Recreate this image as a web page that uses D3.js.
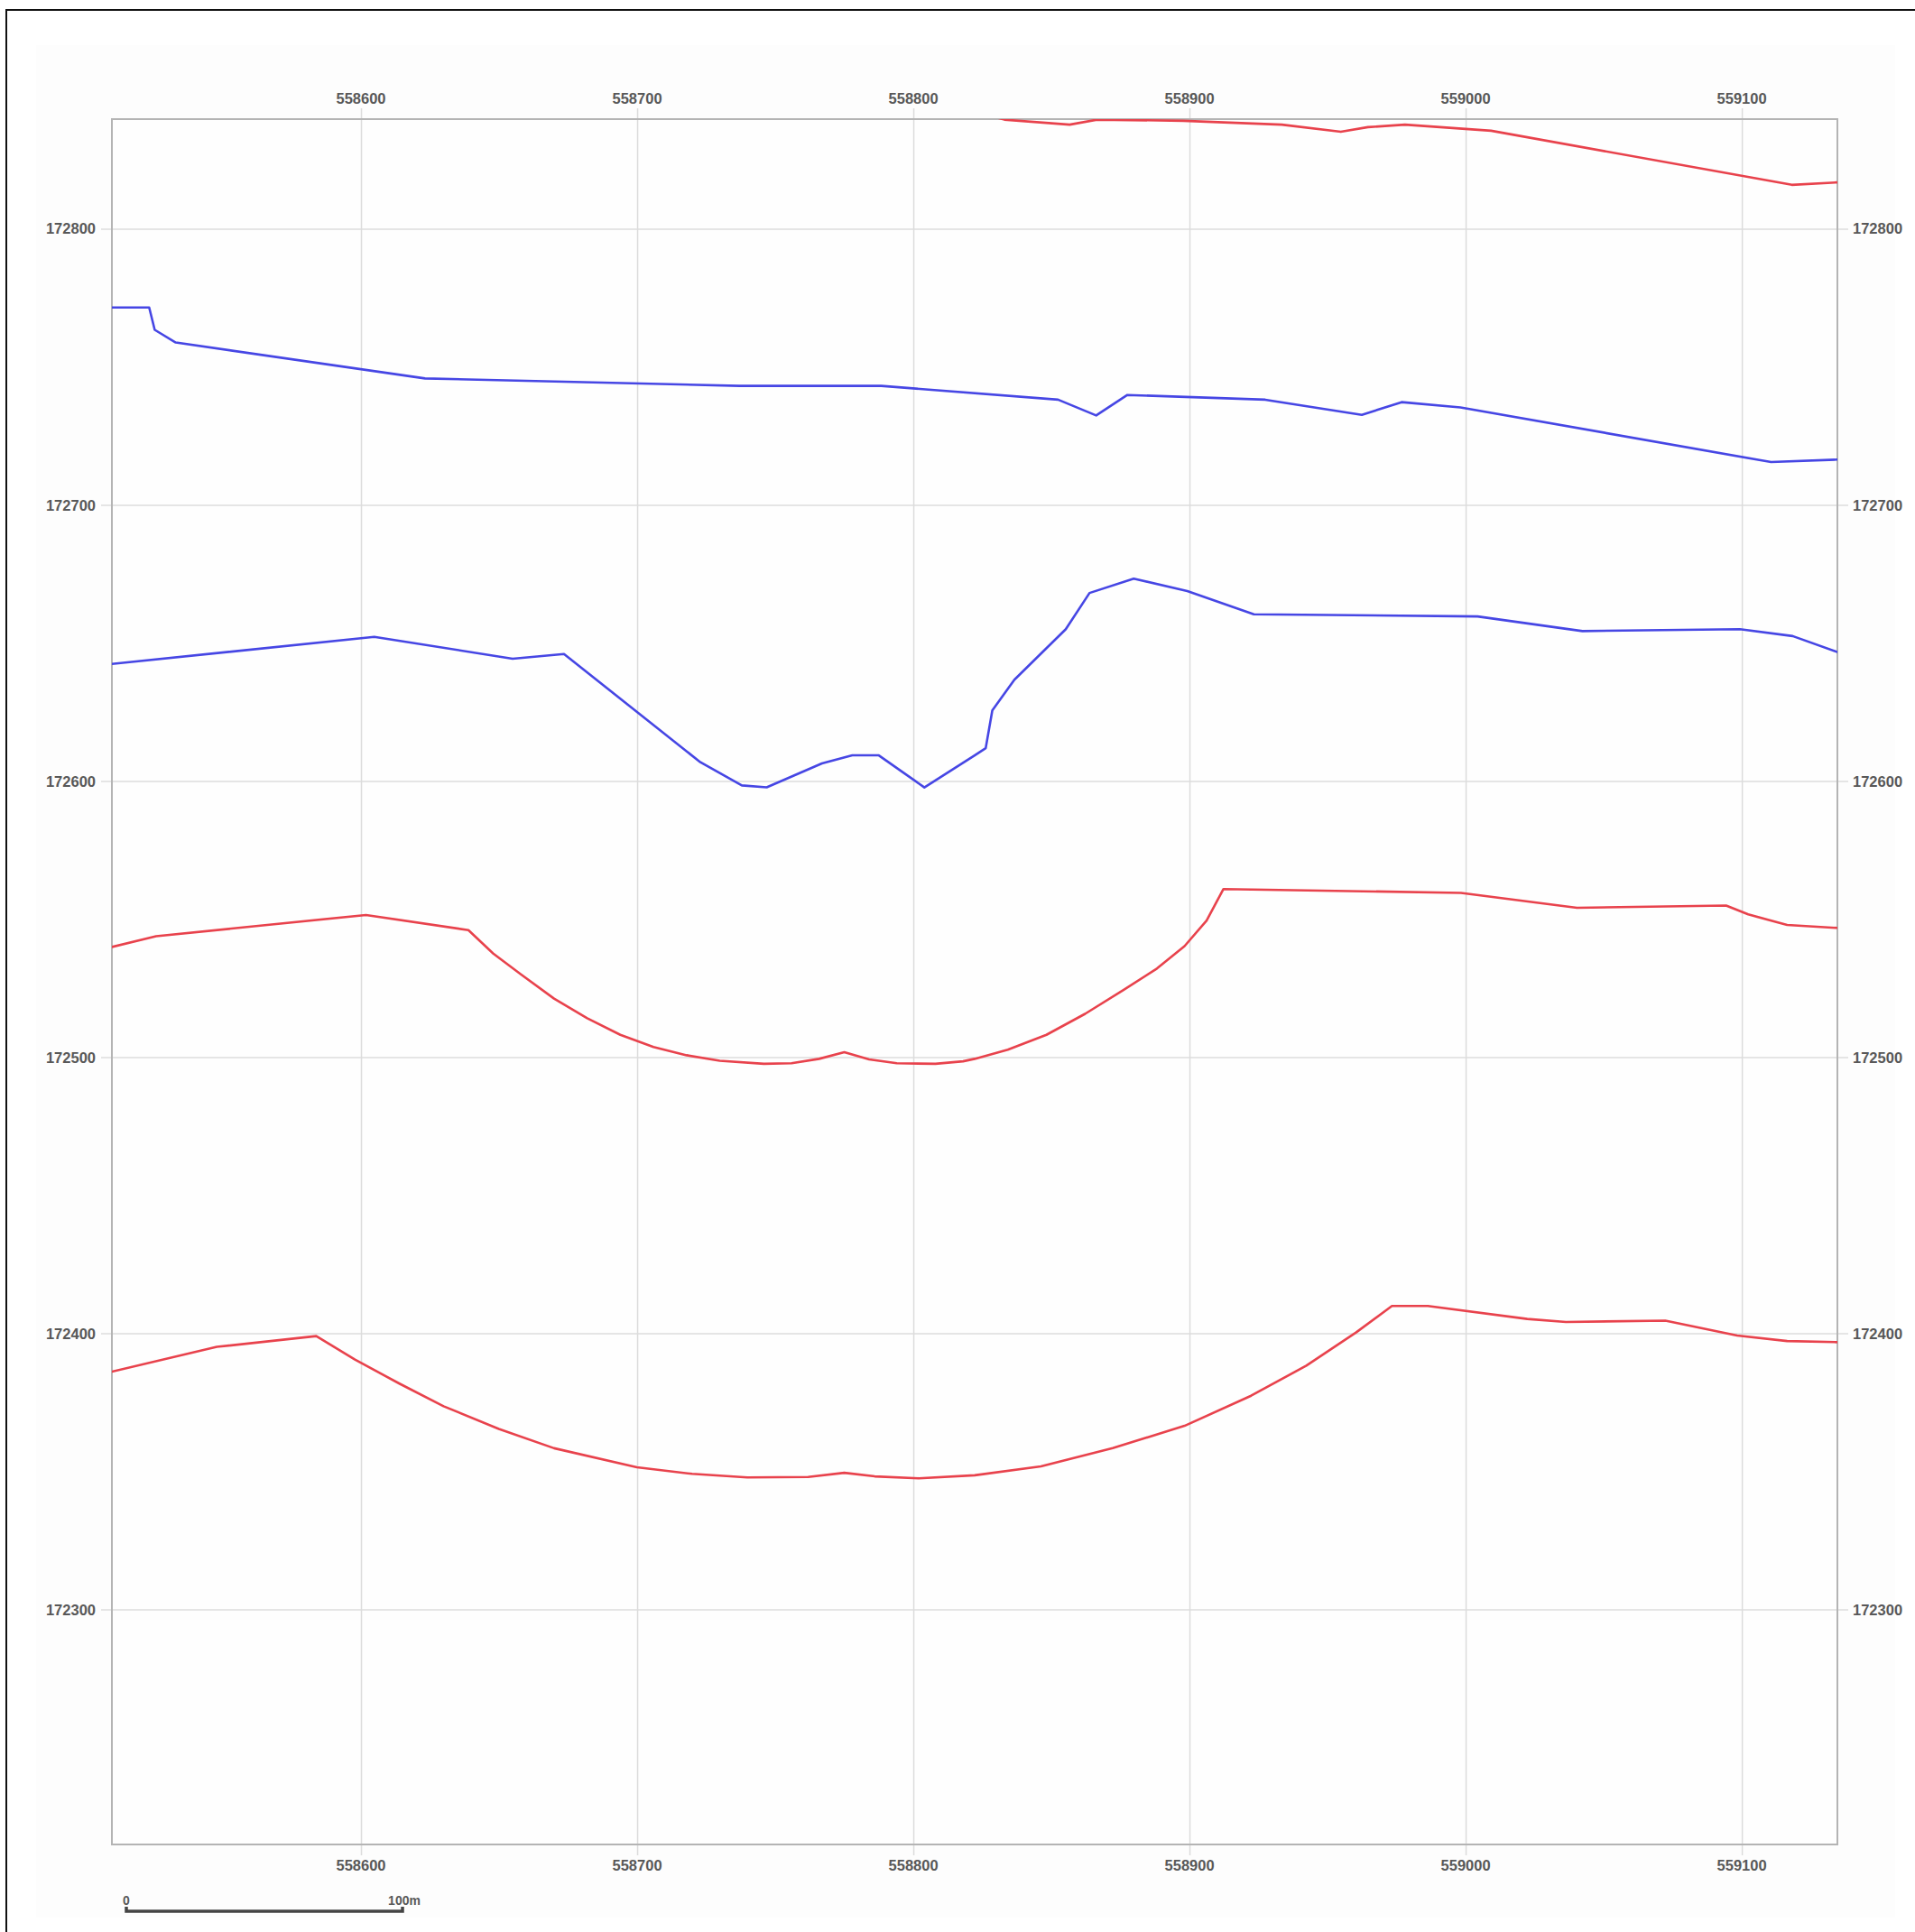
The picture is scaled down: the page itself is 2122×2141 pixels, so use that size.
<!DOCTYPE html>
<html>
<head>
<meta charset="utf-8">
<script src="https://cdn.jsdelivr.net/npm/d3@7/dist/d3.min.js"></script>
<style>
  html, body { margin: 0; padding: 0; background: #ffffff; }
  svg { display: block; }
  .tick-label { font-family: "Liberation Sans", Arial, sans-serif; font-weight: bold; font-size: 16.5px; fill: #585858; }
</style>
</head>
<body>
<script>
// ---- data (easting, northing) ----
const xTicks = [558600, 558700, 558800, 558900, 559000, 559100];
const yTicks = [172300, 172400, 172500, 172600, 172700, 172800];
const xDomain = [558509.8, 559134.6];
const yDomain = [172214.9, 172839.7];

const redTop = [
  [558822.0, 172842.5], [558833.0, 172839.5], [558856.6, 172837.7], [558866.5, 172839.5],
  [558897.7, 172839.1], [558933.4, 172837.7], [558954.8, 172835.1], [558964.6, 172836.8],
  [558978.0, 172837.7], [559009.2, 172835.5], [559118.1, 172815.9], [559134.6, 172816.8]
];

const blueUpper = [
  [558509.9, 172771.5], [558523.3, 172771.5], [558525.3, 172763.4], [558532.9, 172758.8],
  [558623.2, 172745.8], [558737.0, 172743.1], [558788.4, 172743.1], [558852.4, 172738.1],
  [558866.2, 172732.4], [558877.5, 172739.8], [558927.4, 172738.1], [558962.4, 172732.6],
  [558976.8, 172737.2], [558998.1, 172735.3], [559110.6, 172715.5], [559134.6, 172716.4]
];

const blueLower = [
  [558509.8, 172642.4], [558604.8, 172652.2], [558654.9, 172644.3], [558673.5, 172646.0],
  [558722.9, 172606.8], [558737.9, 172598.4], [558746.9, 172597.7], [558766.9, 172606.4],
  [558777.9, 172609.3], [558787.5, 172609.3], [558804.0, 172597.7], [558822.2, 172609.3],
  [558826.2, 172611.9], [558828.6, 172625.6], [558836.6, 172636.7], [558855.2, 172655.0],
  [558863.8, 172668.1], [558879.8, 172673.3], [558899.2, 172668.8], [558923.3, 172660.4],
  [559004.3, 172659.6], [559042.3, 172654.3], [559099.3, 172655.0], [559118.4, 172652.5],
  [559134.6, 172646.7]
];

const redMiddle = [
  [558509.8, 172539.9], [558525.8, 172543.8], [558601.8, 172551.5], [558638.9, 172546.0],
  [558647.9, 172537.5], [558657.9, 172530.0], [558669.9, 172521.2], [558681.9, 172514.1],
  [558693.9, 172508.1], [558705.9, 172503.7], [558717.9, 172500.7], [558729.9, 172498.7],
  [558745.9, 172497.6], [558755.9, 172497.8], [558765.9, 172499.4], [558775.0, 172501.8],
  [558784.0, 172499.2], [558794.0, 172497.8], [558808.0, 172497.6], [558818.0, 172498.5],
  [558822.2, 172499.4], [558834.2, 172502.7], [558848.2, 172508.1], [558862.2, 172515.7],
  [558876.2, 172524.4], [558888.2, 172532.1], [558898.2, 172540.2], [558906.2, 172549.5],
  [558912.3, 172560.9], [558998.3, 172559.5], [559040.3, 172554.1], [559094.3, 172554.9],
  [559102.3, 172551.7], [559116.4, 172547.9], [559134.6, 172546.8]
];

const redLower = [
  [558509.8, 172386.1], [558547.8, 172395.1], [558583.8, 172399.0], [558597.8, 172390.5],
  [558613.9, 172381.8], [558629.9, 172373.6], [558649.9, 172365.4], [558669.9, 172358.4],
  [558699.9, 172351.5], [558719.9, 172349.1], [558739.9, 172347.8], [558761.9, 172348.0],
  [558775.0, 172349.5], [558786.0, 172348.2], [558802.0, 172347.5], [558822.2, 172348.6],
  [558846.2, 172351.8], [558872.2, 172358.4], [558898.2, 172366.5], [558922.3, 172377.4],
  [558942.3, 172388.3], [558960.3, 172400.3], [558973.3, 172409.9], [558986.3, 172409.9],
  [559022.3, 172405.2], [559036.3, 172404.1], [559072.3, 172404.6], [559098.3, 172399.2],
  [559116.4, 172397.2], [559134.6, 172396.8]
];

const lines = [
  { name: "redTop", pts: redTop, color: "#e8424c" },
  { name: "blueUpper", pts: blueUpper, color: "#4646e4" },
  { name: "blueLower", pts: blueLower, color: "#4646e4" },
  { name: "redMiddle", pts: redMiddle, color: "#e8424c" },
  { name: "redLower", pts: redLower, color: "#e8424c" }
];

const scaleBarLabels = ["0", "100m"];
const scaleBarLength = 100;

// ---- layout ----
const W = 2122, H = 2141;
const plot = { left: 124, right: 2036, top: 132, bottom: 2044 };

const svg = d3.select("body").append("svg").attr("width", W).attr("height", H);

// page background and frame
svg.append("rect").attr("x", 0).attr("y", 0).attr("width", W).attr("height", H).attr("fill", "#ffffff");
svg.append("rect").attr("x", 40).attr("y", 50).attr("width", 2060).attr("height", 2075).attr("fill", "#fdfdfd");
svg.append("rect").attr("x", 7).attr("y", 11).attr("width", W + 20).attr("height", H + 20)
  .attr("fill", "none").attr("stroke", "#111").attr("stroke-width", 2);

const x = d3.scaleLinear().domain(xDomain).range([plot.left, plot.right]);
const y = d3.scaleLinear().domain(yDomain).range([plot.bottom, plot.top]);

// plot background
svg.append("rect").attr("x", plot.left).attr("y", plot.top)
  .attr("width", plot.right - plot.left).attr("height", plot.bottom - plot.top)
  .attr("fill", "#fefefe");

// grid lines via axes (extended slightly beyond plot)
const ext = 12;
const gx = svg.append("g").attr("transform", `translate(0,${plot.bottom + ext})`)
  .call(d3.axisBottom(x).tickValues(xTicks).tickSize(plot.bottom - plot.top + 2 * ext).tickFormat(""));
gx.selectAll(".tick line").attr("transform", `translate(0,${-(plot.bottom - plot.top + 2 * ext)})`)
  .attr("y2", plot.bottom - plot.top + 2 * ext).attr("stroke", "#dcdcdc").attr("stroke-width", 1.5);
gx.select(".domain").remove();

const gy = svg.append("g").attr("transform", `translate(${plot.left - ext},0)`)
  .call(d3.axisRight(y).tickValues(yTicks).tickSize(plot.right - plot.left + 2 * ext).tickFormat(""));
gy.selectAll(".tick line").attr("stroke", "#dcdcdc").attr("stroke-width", 1.5);
gy.select(".domain").remove();

// plot border
svg.append("rect").attr("x", plot.left).attr("y", plot.top)
  .attr("width", plot.right - plot.left).attr("height", plot.bottom - plot.top)
  .attr("fill", "none").attr("stroke", "#b4b4b4").attr("stroke-width", 2);

// tick labels
const fmt = d3.format("d");
const xlab = svg.append("g");
xlab.selectAll("text.top").data(xTicks).join("text").attr("class", "tick-label")
  .attr("x", d => x(d)).attr("y", 115).attr("text-anchor", "middle").text(fmt);
xlab.selectAll("text.bot").data(xTicks).join("text").attr("class", "tick-label")
  .attr("x", d => x(d)).attr("y", 2073).attr("text-anchor", "middle").text(fmt);
const ylab = svg.append("g");
ylab.selectAll("text.l").data(yTicks).join("text").attr("class", "tick-label")
  .attr("x", 106).attr("y", d => y(d) + 6).attr("text-anchor", "end").text(fmt);
ylab.selectAll("text.r").data(yTicks).join("text").attr("class", "tick-label")
  .attr("x", 2053).attr("y", d => y(d) + 6).attr("text-anchor", "start").text(fmt);

// clip
svg.append("clipPath").attr("id", "plotclip").append("rect")
  .attr("x", plot.left).attr("y", plot.top)
  .attr("width", plot.right - plot.left).attr("height", plot.bottom - plot.top);

const lineGen = d3.line().x(d => x(d[0])).y(d => y(d[1]));
svg.append("g").attr("clip-path", "url(#plotclip)")
  .selectAll("path").data(lines).join("path")
  .attr("d", d => lineGen(d.pts))
  .attr("fill", "none").attr("stroke", d => d.color)
  .attr("stroke-width", 2.6).attr("stroke-linejoin", "round").attr("stroke-linecap", "round");

// scale bar
const sbX0 = 140;
const sbLen = x(xDomain[0] + scaleBarLength) - x(xDomain[0]);
const sbY = 2118;
const sb = svg.append("g");
sb.append("path")
  .attr("d", `M${sbX0},${sbY - 5} L${sbX0},${sbY} L${sbX0 + sbLen},${sbY} L${sbX0 + sbLen},${sbY - 5}`)
  .attr("fill", "none").attr("stroke", "#444").attr("stroke-width", 3.5);
sb.append("text").attr("class", "tick-label").attr("x", sbX0).attr("y", 2111)
  .attr("text-anchor", "middle").style("font-size", "14px").text(scaleBarLabels[0]);
sb.append("text").attr("class", "tick-label").attr("x", sbX0 + sbLen + 2).attr("y", 2111)
  .attr("text-anchor", "middle").style("font-size", "14px").text(scaleBarLabels[1]);
</script>
</body>
</html>
